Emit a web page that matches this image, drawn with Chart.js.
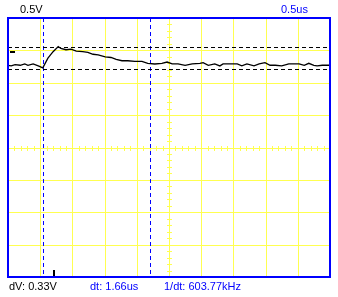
<!DOCTYPE html>
<html>
<head>
<meta charset="utf-8">
<script src="https://cdn.jsdelivr.net/npm/chart.js@4/dist/chart.umd.min.js"></script>
<style>
    body { margin: 0; background: #fff; }
    #wrap { position: relative; width: 338px; height: 297px; font-family: "Liberation Sans", Arial, sans-serif; font-size: 11px; }
    #wrap canvas { position: absolute; left: 0; top: 0; }
    .lbl { position: absolute; white-space: nowrap; line-height: 11px; }
</style>
</head>
<body>
<div id="wrap">
    <canvas id="osciloscopio" width="338" height="297"></canvas>
    <div class="lbl" style="left:20px; top:4px; color:#000;">0.5V</div>
    <div class="lbl" style="left:281px; top:4px; color:#0000ff;">0.5us</div>
    <div class="lbl" style="left:9px; top:281px; color:#000;">dV: 0.33V</div>
    <div class="lbl" style="left:90px; top:281px; color:#0000ff;">dt: 1.66us</div>
    <div class="lbl" style="left:164px; top:281px; color:#0000ff;">1/dt: 603.77kHz</div>
</div>
<script>
// Datos (tiempo en us, tension en V)
const tiempo = [0.00, 0.05, 0.11, 0.19, 0.26, 0.31, 0.39, 0.47, 0.54, 0.62,
    0.70, 0.78, 0.82, 0.90, 0.98, 1.06, 1.16, 1.24, 1.32, 1.40,
    1.51, 1.60, 1.68, 1.77, 1.86, 1.97, 2.08, 2.17, 2.28, 2.39,
    2.47, 2.55, 2.64, 2.75, 2.86, 2.98, 3.03, 3.11, 3.21, 3.29,
    3.34, 3.40, 3.56, 3.63, 3.71, 3.82, 3.90, 3.99, 4.07, 4.15,
    4.25, 4.36, 4.52, 4.60, 4.67, 4.75, 4.80, 4.88, 5.00];
const voltaje = [1.27, 1.26, 1.28, 1.27, 1.29, 1.27, 1.29, 1.26, 1.23, 1.38,
    1.48, 1.56, 1.53, 1.51, 1.52, 1.49, 1.48, 1.47, 1.44, 1.43,
    1.40, 1.39, 1.36, 1.34, 1.34, 1.33, 1.33, 1.30, 1.29, 1.30,
    1.32, 1.29, 1.29, 1.27, 1.29, 1.30, 1.31, 1.27, 1.29, 1.26,
    1.29, 1.29, 1.29, 1.26, 1.29, 1.26, 1.29, 1.31, 1.27, 1.27,
    1.26, 1.29, 1.29, 1.27, 1.30, 1.27, 1.26, 1.27, 1.27];
const cursoresT = [0.55, 2.21];
const cursoresV = [1.55, 1.22];
const nivelCero = 1.48;
const disparo = 0.70;
const rangoT = [0, 5];
const rangoV = [-2, 2];
const pasoT = 0.5;
const pasoV = 0.5;

const AMARILLO = '#ffff50';
const AZUL = '#0000ff';

const px = v => Math.round(v) + 0.5;

// reticula, cursores, marco y marcadores
const reticula = {
    id: 'reticula',
    beforeDatasetsDraw(chart) {
        const ctx = chart.ctx;
        const a = chart.chartArea;
        const x = chart.scales.x, y = chart.scales.y;
        ctx.save();
        ctx.strokeStyle = AMARILLO;
        ctx.lineWidth = 1;
        ctx.beginPath();
        x.ticks.forEach(t => {
            const p = px(x.getPixelForValue(t.value));
            ctx.moveTo(p, a.top); ctx.lineTo(p, a.bottom);
        });
        y.ticks.forEach(t => {
            const p = px(y.getPixelForValue(t.value));
            ctx.moveTo(a.left, p); ctx.lineTo(a.right, p);
        });
        // marcas menores en los ejes centrales
        const cx = px(x.getPixelForValue((rangoT[0] + rangoT[1]) / 2));
        const cy = px(y.getPixelForValue((rangoV[0] + rangoV[1]) / 2));
        for (let i = 0; i <= (rangoT[1] - rangoT[0]) / pasoT * 5; i++) {
            const p = px(x.getPixelForValue(rangoT[0] + i * pasoT / 5));
            ctx.moveTo(p, cy - 2.5); ctx.lineTo(p, cy + 2.5);
        }
        for (let i = 0; i <= (rangoV[1] - rangoV[0]) / pasoV * 5; i++) {
            const p = px(y.getPixelForValue(rangoV[0] + i * pasoV / 5));
            ctx.moveTo(cx - 2.5, p); ctx.lineTo(cx + 2.5, p);
        }
        ctx.stroke();

        // cursores
        ctx.setLineDash([4, 3]);
        ctx.strokeStyle = AZUL;
        ctx.beginPath();
        cursoresT.forEach(t => {
            const p = px(x.getPixelForValue(t));
            ctx.moveTo(p, a.top); ctx.lineTo(p, a.bottom);
        });
        ctx.stroke();
        ctx.strokeStyle = '#000';
        ctx.beginPath();
        cursoresV.forEach(v => {
            const p = px(y.getPixelForValue(v));
            ctx.moveTo(a.left, p); ctx.lineTo(a.right, p);
        });
        ctx.stroke();
        ctx.restore();
    },
    afterDraw(chart) {
        const ctx = chart.ctx;
        const a = chart.chartArea;
        const x = chart.scales.x, y = chart.scales.y;
        ctx.save();
        ctx.strokeStyle = AZUL;
        ctx.lineWidth = 2;
        ctx.strokeRect(a.left, a.top, a.right - a.left, a.bottom - a.top);
        ctx.fillStyle = '#000';
        const gy = Math.round(y.getPixelForValue(nivelCero));
        ctx.fillRect(a.left + 2, gy - 1, 5, 2);
        const tx = Math.round(x.getPixelForValue(disparo));
        ctx.fillRect(tx, a.bottom - 7, 2, 6);
        ctx.restore();
    }
};

const senal = tiempo.map((t, i) => ({ x: t, y: voltaje[i] }));

new Chart(document.getElementById('osciloscopio'), {
    type: 'scatter',
    data: {
        datasets: [{ data: senal, borderColor: '#000' }]
    },
    options: {
        responsive: false,
        animation: false,
        devicePixelRatio: 1,
        showLine: true,
        layout: { padding: { left: 8, right: 8, top: 18, bottom: 20 } },
        elements: {
            line: { borderWidth: 1.3, tension: 0 },
            point: { radius: 0, hoverRadius: 0 }
        },
        plugins: { legend: { display: false }, tooltip: { enabled: false } },
        scales: {
            x: {
                type: 'linear', min: rangoT[0], max: rangoT[1],
                ticks: { display: false, stepSize: pasoT },
                grid: { display: false, drawTicks: false },
                border: { display: false }
            },
            y: {
                type: 'linear', min: rangoV[0], max: rangoV[1],
                ticks: { display: false, stepSize: pasoV },
                grid: { display: false, drawTicks: false },
                border: { display: false }
            }
        }
    },
    plugins: [reticula]
});
</script>
</body>
</html>
